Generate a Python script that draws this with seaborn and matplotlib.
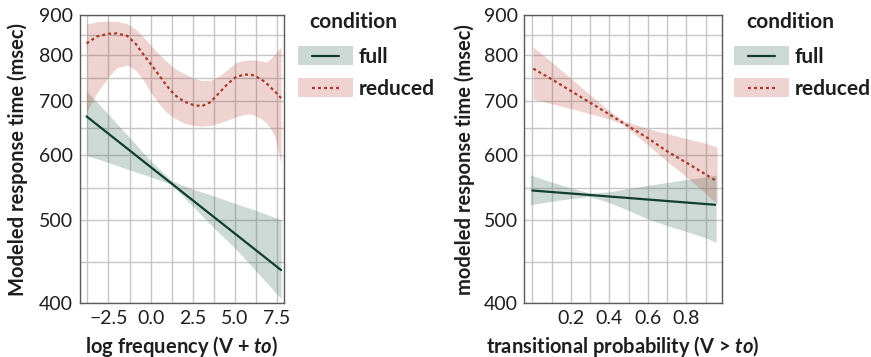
import numpy as np
import pandas as pd
import matplotlib
matplotlib.use("Agg")
import matplotlib.pyplot as plt
import seaborn as sns
from matplotlib.patches import Rectangle
from matplotlib.lines import Line2D
from matplotlib.legend_handler import HandlerBase
from matplotlib.ticker import FixedLocator, FixedFormatter, NullFormatter

# ---------------- data ----------------
conditions = ["full", "reduced"]

# left panel: log frequency (V + to)
freq_full_line_x = [-3.8, 7.75]
freq_full_line_fit = [669, 437]
freq_full_x = [-3.8, -2.5, -1.25, 0.0, 1.25, 2.5, 3.75, 5.0, 6.25, 7.75]
freq_full_hi = [719, 673, 630, 590, 558, 545, 535, 524, 514, 501]
freq_full_lo = [599, 587, 575, 564, 552, 520, 490, 464, 436, 405]

freq_red_x = [-3.8, -3.2, -2.5, -2.0, -1.4, -0.9, -0.45, 0.0, 0.45, 0.95, 1.45, 2.0,
              2.55, 3.05, 3.55, 4.05, 4.55, 5.05, 5.55, 6.05, 6.55, 6.85, 7.1, 7.4, 7.75]
freq_red_fit = [827, 844, 851, 852, 846, 827, 802, 779, 756, 731, 711, 698,
                691, 689, 697, 715, 734, 749, 755, 754, 745, 737, 728, 718, 705]
freq_red_hi = [876, 882, 884, 883, 877, 863, 844, 823, 803, 784, 768, 757,
               747, 742, 742, 751, 766, 781, 787, 788, 786, 783, 790, 803, 818]
freq_red_lo = [678, 715, 750, 770, 776, 765, 745, 717, 696, 677, 665, 656,
               652, 651, 652, 656, 662, 668, 673, 673, 665, 657, 648, 630, 585]

# right panel: transitional probability (V > to)
tp_full_line_x = [0.0, 0.95]
tp_full_line_fit = [543, 522]
tp_full_x = [-0.01, 0.1, 0.2, 0.3, 0.4, 0.5, 0.6, 0.7, 0.8, 0.9, 0.955]
tp_full_hi = [567, 556, 547, 539, 541, 546, 551, 555, 560, 564, 567]
tp_full_lo = [522, 527, 531, 534, 525, 514, 502, 493, 485, 477, 471]

tp_red_x = [0.005, 0.1, 0.2, 0.3, 0.4, 0.47, 0.6, 0.7, 0.8, 0.9, 0.96]
tp_red_fit = [768, 745, 720, 696, 673, 657, 629, 606, 587, 568, 557]
tp_red_hi = [818, 783, 747, 712, 680, 661, 646, 637, 628, 620, 613]
tp_red_lo = [703, 694, 684, 674, 664, 654, 617, 589, 564, 539, 523]

y_ticks = [400, 500, 600, 700, 800, 900]
y_tick_labels = ["400", "500", "600", "700", "800", "900"]
freq_ticks = [-2.5, 0.0, 2.5, 5.0, 7.5]
freq_tick_labels = ["\u22122.5", "0.0", "2.5", "5.0", "7.5"]
freq_minor = [-3.75, -1.25, 1.25, 3.75, 6.25]
tp_ticks = [0.2, 0.4, 0.6, 0.8]
tp_tick_labels = ["0.2", "0.4", "0.6", "0.8"]
tp_minor = [0.0, 0.1, 0.3, 0.5, 0.7, 0.9]

# ---------------- style ----------------
sns.set_style("white")
plt.rcParams["font.family"] = ["Lato", "DejaVu Sans"]
plt.rcParams["mathtext.fontset"] = "custom"
plt.rcParams["mathtext.rm"] = "Lato:bold"
plt.rcParams["mathtext.it"] = "Lato:italic:bold"
plt.rcParams["mathtext.bf"] = "Lato:bold"

line_cols = {"full": "#0f3d2e", "reduced": "#a8392a"}
fill_cols = {"full": "#3f6e5a", "reduced": "#b8483c"}
fill_alpha = {"full": 0.26, "reduced": 0.24}
line_w = {"full": 1.6, "reduced": 1.6}
dash_red = (1.35, 1.35)
text_col = "#1e1e1e"
grid_col = "#c6c6c6"

P = -0.15


def fwd(v):
    v = np.asarray(v, dtype=float)
    return -np.power(np.maximum(v, 1e-9), P)


def inv(u):
    u = np.asarray(u, dtype=float)
    return np.power(np.maximum(-u, 1e-9), 1.0 / P)


fig = plt.figure(figsize=(8.71, 3.57), dpi=100)
ax1 = fig.add_axes([79.5 / 871, (357 - 303.3) / 357, 204.5 / 871, 288.3 / 357])
ax2 = fig.add_axes([524 / 871, (357 - 303.3) / 357, 197.7 / 871, 288.3 / 357])


def make_df(xf, ff, xr, fr):
    return pd.concat([
        pd.DataFrame({"x": xf, "rt": ff, "condition": "full"}),
        pd.DataFrame({"x": xr, "rt": fr, "condition": "reduced"}),
    ], ignore_index=True)


def panel(ax, bands, df, xlim, xticks, xlabels, xminor, xlabel, ylabel):
    for cond, (x, lo, hi) in bands.items():
        ax.fill_between(x, lo, hi, color=fill_cols[cond], alpha=fill_alpha[cond],
                        lw=0, zorder=2)
    sns.lineplot(data=df, x="x", y="rt", hue="condition", style="condition",
                 hue_order=conditions, style_order=conditions,
                 palette=line_cols, dashes={"full": "", "reduced": dash_red},
                 estimator=None, sort=False, legend=False, ax=ax, zorder=3)
    for ln in ax.lines:
        if ln.get_linestyle() == "-":
            ln.set_linewidth(line_w["full"])
        else:
            ln.set_linewidth(line_w["reduced"])
    ax.set_yscale("function", functions=(fwd, inv))
    ax.set_ylim(400, 900)
    ax.set_xlim(*xlim)
    ax.yaxis.set_major_locator(FixedLocator(y_ticks))
    ax.yaxis.set_major_formatter(FixedFormatter(y_tick_labels))
    ymin = [float(inv((fwd(a) + fwd(b)) / 2)) for a, b in zip(y_ticks[:-1], y_ticks[1:])]
    ax.yaxis.set_minor_locator(FixedLocator(ymin))
    ax.yaxis.set_minor_formatter(NullFormatter())
    ax.xaxis.set_major_locator(FixedLocator(xticks))
    ax.xaxis.set_major_formatter(FixedFormatter(xlabels))
    ax.xaxis.set_minor_locator(FixedLocator(xminor))
    ax.xaxis.set_minor_formatter(NullFormatter())
    ax.grid(True, which="both", color=grid_col, lw=1.0)
    ax.set_axisbelow(True)
    for s in ax.spines.values():
        s.set_visible(True)
        s.set_color("#5a5a5a")
        s.set_linewidth(1.0)
    ax.tick_params(axis="y", which="major", labelsize=14, colors="#5a5a5a",
                   labelcolor=text_col, length=2.5, width=0.8, pad=2)
    ax.tick_params(axis="x", which="major", labelsize=14, colors="#5a5a5a",
                   labelcolor=text_col, length=2.5, width=0.8, pad=2)
    ax.tick_params(which="minor", length=0)
    ax.set_xlabel(xlabel, fontsize=14.5, fontweight="bold", color=text_col)
    ax.set_ylabel(ylabel, fontsize=14.5, fontweight="bold", color=text_col)
    ax.yaxis.set_label_coords(-0.25, 0.5)
    ax.xaxis.set_label_coords(0.5, -0.105)


panel(ax1,
      {"full": (freq_full_x, freq_full_lo, freq_full_hi),
       "reduced": (freq_red_x, freq_red_lo, freq_red_hi)},
      make_df(freq_full_line_x, freq_full_line_fit, freq_red_x, freq_red_fit),
      (-4.22, 7.92), freq_ticks, freq_tick_labels, freq_minor,
      r"log frequency (V + $\mathit{to}$)", "Modeled response time (msec)")

panel(ax2,
      {"full": (tp_full_x, tp_full_lo, tp_full_hi),
       "reduced": (tp_red_x, tp_red_lo, tp_red_hi)},
      make_df(tp_full_line_x, tp_full_line_fit, tp_red_x, tp_red_fit),
      (-0.043, 0.984), tp_ticks, tp_tick_labels, tp_minor,
      r"transitional probability (V > $\mathit{to}$)", "modeled response time (msec)")


class Key:
    def __init__(self, cond):
        self.cond = cond


class KeyHandler(HandlerBase):
    def create_artists(self, legend, orig_handle, xdescent, ydescent, width, height,
                       fontsize, trans):
        c = orig_handle.cond
        rect = Rectangle((-xdescent, -ydescent), width, height,
                         facecolor=fill_cols[c], alpha=fill_alpha[c], edgecolor="none",
                         transform=trans)
        ymid = -ydescent + height / 2
        ls = "-" if c == "full" else (0, dash_red)
        ln = Line2D([-xdescent + 0.25 * width, -xdescent + 0.75 * width], [ymid, ymid],
                    color=line_cols[c], lw=line_w[c], linestyle=ls, transform=trans)
        return [rect, ln]


def add_legend(ax, key_left_px, title_left_px, ax_left_px, ax_w_px):
    fs = 15
    fs_px = fs * 100 / 72
    leg = ax.legend([Key(c) for c in conditions], conditions,
                    handler_map={Key: KeyHandler()},
                    loc="upper left",
                    bbox_to_anchor=((key_left_px - ax_left_px) / ax_w_px, (303.3 - 46) / 288.3),
                    frameon=False, borderpad=0, borderaxespad=0,
                    handlelength=55 / fs_px, handleheight=22 / fs_px,
                    labelspacing=11 / fs_px, handletextpad=6 / fs_px,
                    prop={"size": fs, "weight": "bold"})
    for t in leg.get_texts():
        t.set_color(text_col)
    ax.text((title_left_px - ax_left_px) / ax_w_px, (303.3 - 22) / 288.3, "condition",
            transform=ax.transAxes, ha="left", va="center", fontsize=15,
            fontweight="bold", color=text_col)


add_legend(ax1, 298, 309, 79.5, 204.5)
add_legend(ax2, 734, 746, 524, 197.7)

fig.savefig("out.png", dpi=100)
